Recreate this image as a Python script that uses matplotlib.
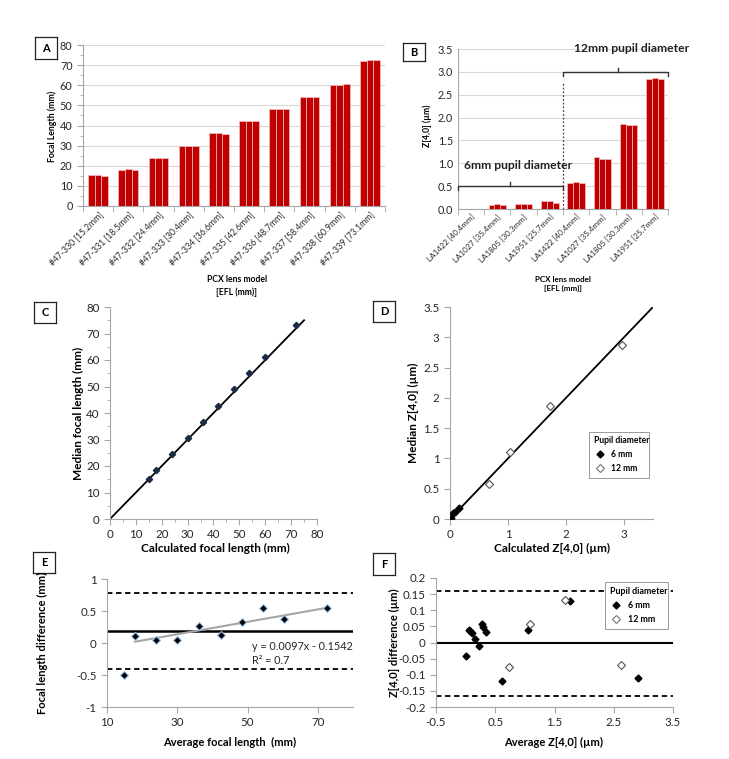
import matplotlib
matplotlib.use('Agg')
import matplotlib.pyplot as plt
import numpy as np
from matplotlib.ticker import MultipleLocator, FuncFormatter
from matplotlib.lines import Line2D

plt.rcParams['font.family'] = ['Lato', 'DejaVu Sans']

# ---------------- data ----------------
a_labels = ["#47-330 [15.2mm]", "#47-331 [18.5mm]", "#47-332 [24.4mm]", "#47-333 [30.4mm]",
            "#47-334 [36.6mm]", "#47-335 [42.6mm]", "#47-336 [48.7mm]", "#47-337 [58.4mm]",
            "#47-338 [60.9mm]", "#47-339 [73.1mm]"]
a_rep1 = [15.2, 17.9, 24.0, 30.0, 36.1, 42.1, 48.2, 54.2, 60.1, 72.2]
a_rep2 = [15.2, 18.3, 24.0, 29.9, 36.1, 42.1, 48.1, 54.0, 60.0, 72.3]
a_rep3 = [15.0, 17.9, 23.7, 30.0, 35.9, 42.2, 48.1, 54.0, 60.5, 72.3]

b_labels = ["LA1422 [40.4mm]", "LA1027 [35.4mm]", "LA1805 [30.3mm]", "LA1951 [25.7mm]",
            "LA1422 [40.4mm]", "LA1027 [35.4mm]", "LA1805 [30.3mm]", "LA1951 [25.7mm]"]
b_rep1 = [0.00, 0.09, 0.12, 0.17, 0.56, 1.14, 1.85, 2.85]
b_rep2 = [0.00, 0.10, 0.12, 0.18, 0.59, 1.09, 1.84, 2.86]
b_rep3 = [0.00, 0.08, 0.12, 0.14, 0.56, 1.09, 1.84, 2.85]

c_calc = [15.1, 17.9, 23.8, 30.0, 35.8, 41.8, 47.9, 53.8, 59.8, 71.9]
c_median = [15.0, 18.5, 24.4, 30.6, 36.6, 42.8, 49.0, 55.0, 61.2, 73.3]

d_calc_6 = [0.02, 0.06, 0.09, 0.16]
d_med_6 = [0.01, 0.10, 0.12, 0.18]
d_calc_12 = [0.68, 1.04, 1.72, 2.96]
d_med_12 = [0.58, 1.10, 1.86, 2.88]

e_avg = [14.9, 18.0, 24.0, 30.0, 36.3, 42.3, 48.3, 54.4, 60.5, 72.7]
e_diff = [-0.50, 0.11, 0.04, 0.05, 0.27, 0.12, 0.33, 0.54, 0.37, 0.55]
e_mean, e_upper, e_lower = 0.19, 0.78, -0.41
e_slope, e_icpt = 0.0097, -0.1542

f_avg_6 = [0.01, 0.06, 0.08, 0.11, 0.16, 0.22, 0.27, 0.30, 0.35, 0.61, 1.05, 1.77, 2.91]
f_diff_6 = [-0.041, 0.039, 0.035, 0.028, 0.011, -0.011, 0.057, 0.049, 0.032, -0.120, 0.039, 0.130, -0.109]
f_avg_12 = [0.73, 1.09, 1.68, 2.62]
f_diff_12 = [-0.077, 0.057, 0.131, -0.069]
f_mean, f_upper, f_lower = -0.003, 0.160, -0.167

# ---------------- layout ----------------
W, H = 729, 759
fig = plt.figure(figsize=(W / 100, H / 100), dpi=100)
RED = '#C00000'
GRAY = '#a6a6a6'
TXT = '#262626'


def ax_px(x0, y0, x1, y1):
    return fig.add_axes([x0 / W, 1 - y1 / H, (x1 - x0) / W, (y1 - y0) / H])


def ftext(x, y, s, **kw):
    return fig.text(x / W, 1 - y / H, s, **kw)


def style(ax, fs=8.3):
    for s in ['top', 'right']:
        ax.spines[s].set_visible(False)
    for s in ['left', 'bottom']:
        ax.spines[s].set_color(GRAY)
        ax.spines[s].set_linewidth(0.8)
    ax.tick_params(which='both', color=GRAY, labelcolor=TXT, labelsize=fs, direction='out')
    ax.tick_params(which='major', length=4)
    ax.tick_params(which='minor', length=2.5)


def panel_label(x0, y0, x1, y1, s):
    ax = fig.add_axes([x0 / W, 1 - y1 / H, (x1 - x0) / W, (y1 - y0) / H])
    ax.set_xticks([]); ax.set_yticks([])
    for sp in ax.spines.values():
        sp.set_color('#222222'); sp.set_linewidth(0.9)
    ax.text(0.5, 0.5, s, ha='center', va='center', fontsize=8, fontweight='bold',
            transform=ax.transAxes)


def bars(ax, reps, gw=0.66):
    n = len(reps[0])
    x = np.arange(n)
    w = gw / 3
    for k, r in enumerate(reps):
        ax.bar(x + (k - 1) * w, r, width=w, color=RED, edgecolor='#f4c2c2', linewidth=0.5,
               zorder=3)
    ax.set_xlim(-0.5, n - 0.5)
    ax.set_xticks(x)
    ax.set_xticks(np.arange(-0.5, n, 1.0), minor=True)
    ax.tick_params(axis='x', which='major', length=0, pad=3)
    ax.tick_params(axis='x', which='minor', length=4)
    ax.yaxis.grid(True, color='#d9d9d9', linewidth=0.8, zorder=0)
    ax.set_axisbelow(True)


def pupil_legend(ax, handles, anchor, fs):
    leg = ax.legend(handles, ['6 mm', '12 mm'], title='Pupil diameter',
                    loc='lower left', bbox_to_anchor=anchor, mode='expand',
                    fontsize=fs, title_fontsize=fs, frameon=True, fancybox=False,
                    borderpad=0.55, handlelength=1.3, handletextpad=0.7, labelspacing=0.55,
                    framealpha=1)
    leg.get_frame().set_edgecolor('#999999'); leg.get_frame().set_linewidth(0.7)
    leg.get_title().set_fontweight('bold')
    for t in leg.get_texts():
        t.set_fontweight('bold')
    leg._legend_box.align = 'left'
    leg.set_zorder(10)
    return leg


# ---------- Panel A ----------
axA = ax_px(83, 45, 385, 206)
style(axA, fs=7.8)
bars(axA, [a_rep1, a_rep2, a_rep3], gw=0.66)
axA.set_xticklabels(a_labels, rotation=45, ha='right', rotation_mode='anchor', fontsize=6.2)
axA.set_ylim(0, 80)
axA.yaxis.set_major_locator(MultipleLocator(10))
axA.yaxis.set_minor_locator(MultipleLocator(5))
ftext(52, 126, 'Focal Length (mm)', rotation=90, ha='center', va='center', fontsize=6.3,
      fontweight='bold')
ftext(237, 286, 'PCX lens model\n[EFL (mm)]', ha='center', va='center', fontsize=6.2,
      fontweight='bold', linespacing=1.4)
panel_label(35, 37, 57, 59, 'A')

# ---------- Panel B ----------
axB = ax_px(458, 49, 668, 209)
style(axB, fs=7.8)
bars(axB, [b_rep1, b_rep2, b_rep3], gw=0.66)
axB.set_xticklabels(b_labels, rotation=45, ha='right', rotation_mode='anchor', fontsize=5.8)
axB.set_ylim(0, 3.5)
axB.yaxis.set_major_locator(MultipleLocator(0.5))
axB.yaxis.set_major_formatter(FuncFormatter(lambda v, p: f'{v:.1f}'))
axB.tick_params(axis='y', length=0)
axB.plot([3.5, 3.5], [0, 2.78], color='#444444', lw=0.9, ls=(0, (1.5, 1.5)), zorder=4)
# brackets
bk = dict(color='#333333', lw=1.0, clip_on=False, zorder=5)
axB.plot([-0.5, -0.5, 3.5, 3.5], [0.42, 0.5, 0.5, 0.42], **bk)
axB.plot([1.5, 1.5], [0.5, 0.58], **bk)
axB.plot([3.5, 3.5, 7.5, 7.5], [2.92, 3.0, 3.0, 2.92], **bk)
axB.plot([5.6, 5.6], [3.0, 3.08], **bk)
axB.text(1.8, 0.96, '6mm pupil diameter', ha='center', va='center', fontsize=8.7,
         fontweight='bold', color='#222222', zorder=6)
axB.text(6.1, 3.52, '12mm pupil diameter', ha='center', va='center', fontsize=8.7,
         fontweight='bold', color='#222222', clip_on=False, zorder=6)
ftext(427, 126, 'Z[4,0] (µm)', rotation=90, ha='center', va='center', fontsize=6.2,
      fontweight='bold')
ftext(563, 284, 'PCX lens model\n[EFL (mm)]', ha='center', va='center', fontsize=5.8,
      fontweight='bold', linespacing=1.4)
panel_label(403, 43, 425, 61, 'B')

# ---------- Panel C ----------
axC = ax_px(110, 307, 317, 519)
style(axC)
axC.set_xlim(0, 80); axC.set_ylim(0, 80)
axC.xaxis.set_major_locator(MultipleLocator(10))
axC.yaxis.set_major_locator(MultipleLocator(10))
axC.xaxis.set_minor_locator(MultipleLocator(5))
axC.yaxis.set_minor_locator(MultipleLocator(5))
axC.plot([0, 75], [0, 75], color='black', lw=1.3, zorder=2)
axC.plot(c_calc, c_median, ls='none', marker='D', ms=3.2, color='#1c2a48', zorder=3)
ftext(78, 413, 'Median focal length (mm)', rotation=90, ha='center', va='center',
      fontsize=8.5, fontweight='bold')
ftext(215, 548, 'Calculated focal length (mm)', ha='center', va='center', fontsize=8.5,
      fontweight='bold')
panel_label(34, 302, 56, 323, 'C')

# ---------- Panel D ----------
axD = ax_px(450, 307, 653, 519)
style(axD)
axD.set_xlim(0, 3.5); axD.set_ylim(0, 3.5)
axD.xaxis.set_major_locator(MultipleLocator(1))
axD.yaxis.set_major_locator(MultipleLocator(0.5))
gfmt = FuncFormatter(lambda v, p: f'{v:g}')
axD.xaxis.set_major_formatter(gfmt)
axD.yaxis.set_major_formatter(gfmt)
axD.plot([0, 3.5], [0, 3.5], color='black', lw=1.3, zorder=2)
axD.plot(d_calc_6, d_med_6, ls='none', marker='D', ms=3.5, color='black', zorder=3)
axD.plot(d_calc_12, d_med_12, ls='none', marker='D', ms=4, mfc='white', mec='#555555',
         mew=0.8, zorder=3)
h6 = Line2D([], [], ls='none', marker='D', ms=3.5, color='black')
h12 = Line2D([], [], ls='none', marker='D', ms=4, mfc='white', mec='#777777', mew=0.8)
pupil_legend(axD, [h6, h12], (0.665, 0.175, 0.335, 0.24), 6.2)
ftext(413, 413, 'Median Z[4,0] (µm)', rotation=90, ha='center', va='center', fontsize=8.5,
      fontweight='bold')
ftext(552, 548, 'Calculated Z[4,0] (µm)', ha='center', va='center', fontsize=8.5,
      fontweight='bold')
panel_label(373, 301, 395, 322, 'D')

# ---------- Panel E ----------
axE = ax_px(107, 579, 353, 707)
style(axE)
axE.set_xlim(10, 80); axE.set_ylim(-1, 1)
axE.set_xticks([10, 30, 50, 70])
axE.yaxis.set_major_locator(MultipleLocator(0.5))
axE.yaxis.set_major_formatter(gfmt)
axE.axhline(e_mean, color='black', lw=1.8, zorder=2)
axE.axhline(e_upper, color='black', lw=1.3, ls=(0, (3, 2)), zorder=2)
axE.axhline(e_lower, color='black', lw=1.3, ls=(0, (3, 2)), zorder=2)
xt = np.array([min(e_avg[1:]), max(e_avg)])
axE.plot(xt, e_slope * xt + e_icpt, color='#a6a6a6', lw=1.5, zorder=3)
axE.plot(e_avg, e_diff, ls='none', marker='D', ms=4, mfc='black', mec='#9cc3e6', mew=0.8,
         zorder=4)
axE.text(51.3, -0.05, f'y = {e_slope}x - {abs(e_icpt)}', fontsize=7.8, color=TXT,
         va='center', ha='left')
axE.text(51.3, -0.27, 'R² = 0.7', fontsize=7.8, color=TXT, va='center', ha='left')
ftext(42, 643, 'Focal length difference (mm)', rotation=90, ha='center', va='center',
      fontsize=8, fontweight='bold')
ftext(230, 742, 'Average focal length  (mm)', ha='center', va='center', fontsize=8,
      fontweight='bold')
panel_label(33, 552, 55, 573, 'E')

# ---------- Panel F ----------
axF = ax_px(436, 578, 673, 707)
style(axF)
axF.set_xlim(-0.5, 3.5); axF.set_ylim(-0.2, 0.2)
axF.set_xticks([-0.5, 0.5, 1.5, 2.5, 3.5])
axF.xaxis.set_major_formatter(gfmt)
axF.yaxis.set_major_locator(MultipleLocator(0.05))
axF.yaxis.set_major_formatter(FuncFormatter(lambda v, p: f'{round(v, 2):g}'))
axF.axhline(f_mean, color='black', lw=1.5, zorder=2)
axF.axhline(f_upper, color='black', lw=1.3, ls=(0, (3, 2)), zorder=2)
axF.axhline(f_lower, color='black', lw=1.3, ls=(0, (3, 2)), zorder=2)
axF.plot(f_avg_6, f_diff_6, ls='none', marker='D', ms=3.5, color='black', zorder=3)
axF.plot(f_avg_12, f_diff_12, ls='none', marker='D', ms=4, mfc='white', mec='#555555',
         mew=0.8, zorder=3)
pupil_legend(axF, [h6, h12], (0.696, 0.57, 0.30, 0.39), 6.4)
ftext(394, 643, 'Z[4,0] difference (µm)', rotation=90, ha='center', va='center', fontsize=8,
      fontweight='bold')
ftext(554, 742, 'Average Z[4,0] (µm)', ha='center', va='center', fontsize=8,
      fontweight='bold')
panel_label(373, 553, 395, 575, 'F')

fig.savefig('out.png', dpi=100)
